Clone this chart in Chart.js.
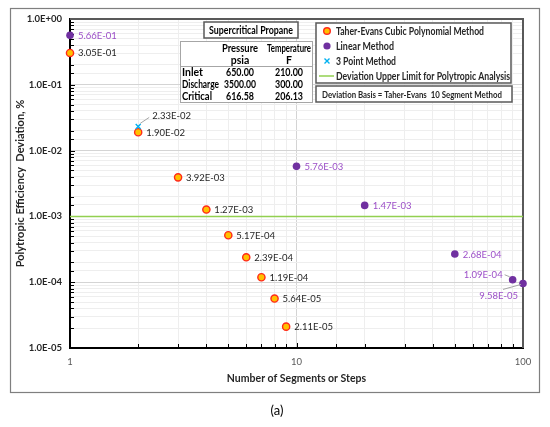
<!DOCTYPE html>
<html>
<head>
<meta charset="utf-8">
<script src="https://cdn.jsdelivr.net/npm/chart.js@4.4.0/dist/chart.umd.min.js"></script>
<style>
html,body{margin:0;padding:0;background:#fff;}
canvas{display:block;}
</style>
</head>
<body>
<canvas id="c" width="550" height="427"></canvas>
<script>
// ---- data ----
const teSegments = [1, 2, 3, 4, 5, 6, 7, 8, 9];
const teDeviation = [3.05e-1, 1.90e-2, 3.92e-3, 1.27e-3, 5.17e-4, 2.39e-4, 1.19e-4, 5.64e-5, 2.11e-5];
const linSteps = [1, 10, 20, 50, 90, 100];
const linDeviation = [5.66e-1, 5.76e-3, 1.47e-3, 2.68e-4, 1.09e-4, 9.58e-5];
const tpSegments = [2];
const tpDeviation = [2.33e-2];
const limitX = [1, 100];
const limitY = [1e-3, 1e-3];
const seriesNames = ['Taher-Evans Cubic Polynomial Method', 'Linear Method', '3 Point Method', 'Deviation Upper Limit for Polytropic Analysis'];
const tableCols = ['Pressure', 'Temperature'];
const tableUnits = ['psia', 'F'];
const tableRows = ['Inlet', 'Discharge', 'Critical'];
const tablePressure = ['650.00', '3500.00', '616.58'];
const tableTemperature = ['210.00', '300.00', '206.13'];
const fluidTitle = 'Supercritical Propane';
const basisNote = 'Deviation Basis = Taher-Evans  10 Segment Method';
const xTitle = 'Number of Segments or Steps';
const yTitle = 'Polytropic Efficiency  Deviation, %';
const caption = '(a)';

const pts = (xs, ys) => xs.map((x, i) => ({x: x, y: ys[i]}));
function fmtE(v, d) {
  const parts = v.toExponential(d).split('e');
  const e = parseInt(parts[1], 10);
  return parts[0] + 'E' + (e < 0 ? '-' : '+') + String(Math.abs(e)).padStart(2, '0');
}
const isDecade = v => Math.abs(Math.log10(v) - Math.round(Math.log10(v))) < 1e-9;

const ORANGE = '#FFC000', RED = '#FF2A1A', PURPLE = '#7030A0', PURPLE_TXT = '#9C4FC8', CYAN = '#00B0F0', GREEN = '#92D050';
const FONT = 'Lato, "Open Sans", sans-serif';

const decor = {
  id: 'decor',
  beforeDraw(chart) {
    const c = chart.ctx;
    c.save();
    c.fillStyle = '#fff';
    c.fillRect(0, 0, chart.width, chart.height);
    c.restore();
  },
  beforeDatasetsDraw(chart) {
    const c = chart.ctx, a = chart.chartArea, xs = chart.scales.x, ys = chart.scales.y;
    c.save();
    // inner tick marks
    c.strokeStyle = '#000'; c.lineWidth = 1;
    ys.ticks.forEach(t => {
      const p = Math.round(ys.getPixelForValue(t.value)) + 0.5;
      c.beginPath(); c.moveTo(a.left, p); c.lineTo(a.left + (isDecade(t.value) ? 5 : 4), p); c.stroke();
    });
    xs.ticks.forEach(t => {
      const p = Math.round(xs.getPixelForValue(t.value)) + 0.5;
      c.beginPath(); c.moveTo(p, a.bottom); c.lineTo(p, a.bottom - (isDecade(t.value) ? 5 : 4)); c.stroke();
    });
    // top/right frame
    c.strokeStyle = '#595959'; c.lineWidth = 2;
    c.beginPath(); c.moveTo(a.left, a.top); c.lineTo(a.right, a.top); c.lineTo(a.right, a.bottom); c.stroke();
    // outer border
    c.strokeStyle = '#7F7F7F'; c.lineWidth = 1.2;
    c.strokeRect(10.5, 8.5, 529, 384);
    // caption
    c.fillStyle = '#000'; c.font = '13px ' + FONT;
    c.textAlign = 'center'; c.textBaseline = 'middle';
    c.fillText(caption, 277, 411);

    // fluid title box
    c.fillStyle = '#fff'; c.fillRect(204, 22, 94, 16);
    c.strokeStyle = '#595959'; c.lineWidth = 1.5; c.strokeRect(204, 22, 94, 16);
    c.fillStyle = '#000'; c.font = 'bold 10.5px ' + FONT;
    c.fillText(fluidTitle, 251, 30.5, 84);

    // table
    c.fillStyle = '#fff'; c.fillRect(180, 41, 132, 62);
    c.strokeStyle = '#A6A6A6'; c.lineWidth = 1; c.strokeRect(180.5, 41.5, 132, 61);
    c.beginPath(); c.moveTo(180.5, 66.5); c.lineTo(312.5, 66.5); c.stroke();
    c.fillStyle = '#000'; c.font = 'bold 10.5px ' + FONT;
    const colX = [240, 289];
    c.textAlign = 'center';
    c.fillText(tableCols[0], colX[0], 48.5, 36);
    c.fillText(tableCols[1], colX[1], 48.5, 44);
    c.fillText(tableUnits[0], colX[0], 60.5);
    c.fillText(tableUnits[1], colX[1], 60.5);
    const rowY = [72.5, 84.5, 96.5];
    const rowW = [21, 37, 30];
    tableRows.forEach((r, i) => {
      c.textAlign = 'left';
      c.fillText(r, 182, rowY[i], rowW[i]);
      c.textAlign = 'center';
      c.fillText(tablePressure[i], colX[0], rowY[i], i === 1 ? 32 : 28);
      c.fillText(tableTemperature[i], colX[1], rowY[i], 28);
    });

    // legend box
    c.fillStyle = '#fff'; c.fillRect(316, 23, 195, 60);
    c.strokeStyle = '#595959'; c.lineWidth = 1.5; c.strokeRect(316, 23, 195, 60);
    const ly = [31, 46, 61, 76];
    const lw = [148, 58, 60, 174];
    // markers
    c.beginPath(); c.arc(327, ly[0], 3.3, 0, Math.PI * 2); c.fillStyle = ORANGE; c.fill();
    c.lineWidth = 1.4; c.strokeStyle = RED; c.stroke();
    c.beginPath(); c.arc(327, ly[1], 3.6, 0, Math.PI * 2); c.fillStyle = PURPLE; c.fill();
    c.strokeStyle = CYAN; c.lineWidth = 1.4;
    c.beginPath(); c.moveTo(324.5, ly[2] - 2.5); c.lineTo(329.5, ly[2] + 2.5);
    c.moveTo(329.5, ly[2] - 2.5); c.lineTo(324.5, ly[2] + 2.5); c.stroke();
    c.strokeStyle = GREEN; c.lineWidth = 1.5;
    c.beginPath(); c.moveTo(319, ly[3]); c.lineTo(334, ly[3]); c.stroke();
    c.fillStyle = '#262626'; c.font = 'bold 11px ' + FONT; c.textAlign = 'left';
    seriesNames.forEach((n, i) => c.fillText(n, 336, ly[i] + 0.5, lw[i]));

    // basis box
    c.fillStyle = '#fff'; c.fillRect(316, 86, 196, 16);
    c.strokeStyle = '#595959'; c.lineWidth = 1.5; c.strokeRect(316, 86, 196, 16);
    c.fillStyle = '#262626'; c.font = 'bold 10px ' + FONT;
    c.fillText(basisNote, 322, 94.5, 180);
    c.restore();
  },
  afterDatasetsDraw(chart) {
    const c = chart.ctx, xs = chart.scales.x, ys = chart.scales.y;
    c.save();
    c.font = '9.5px ' + FONT; c.textBaseline = 'middle';
    const label = (x, y, color, dx, dy, align, leader) => {
      const px = xs.getPixelForValue(x), py = ys.getPixelForValue(y);
      c.fillStyle = color; c.textAlign = align;
      if (leader) {
        c.strokeStyle = '#A6A6A6'; c.lineWidth = 1;
        c.beginPath(); c.moveTo(px + leader[0], py + leader[1]); c.lineTo(px + leader[2], py + leader[3]); c.stroke();
      }
      c.fillText(fmtE(y, 2), px + dx, py + dy);
    };
    teSegments.forEach((x, i) => label(x, teDeviation[i], '#262626', 8, 0.5, 'left'));
    linSteps.forEach((x, i) => {
      const y = linDeviation[i];
      if (x === 90) label(x, y, PURPLE_TXT, -10, -5, 'right', [-3, -3, -8, -5]);
      else if (x === 100) label(x, y, PURPLE_TXT, -5, 13, 'right', [-2, 1, -20, 6]);
      else label(x, y, PURPLE_TXT, 8, 0.5, 'left');
    });
    tpSegments.forEach((x, i) => label(x, tpDeviation[i], '#262626', 14, -10, 'left', [2, -3, 11, -9]));
    c.restore();
  }
};

new Chart(document.getElementById('c'), {
  type: 'scatter',
  data: {
    datasets: [
      {label: seriesNames[3], data: pts(limitX, limitY), showLine: true, borderColor: GREEN, borderWidth: 1.5, pointRadius: 0, order: 4},
      {label: seriesNames[0], data: pts(teSegments, teDeviation), backgroundColor: ORANGE, borderColor: RED, borderWidth: 1.4, pointRadius: 3.6, order: 3, clip: false},
      {label: seriesNames[1], data: pts(linSteps, linDeviation), backgroundColor: PURPLE, borderColor: PURPLE, borderWidth: 0, pointRadius: 3.8, order: 2, clip: false},
      {label: seriesNames[2], data: pts(tpSegments, tpDeviation), pointStyle: 'crossRot', borderColor: CYAN, borderWidth: 1.4, pointRadius: 3.5, order: 1, clip: false}
    ]
  },
  options: {
    responsive: false,
    animation: false,
    devicePixelRatio: 1,
    layout: {padding: {left: 10, right: 27, top: 19, bottom: 35}},
    plugins: {legend: {display: false}, tooltip: {enabled: false}},
    scales: {
      x: {
        type: 'logarithmic', min: 1, max: 100,
        afterFit: s => { s.height = 44; },
        grid: {drawTicks: false, color: ctx => isDecade(ctx.tick.value) ? '#D4D4D4' : '#EEEEEE', lineWidth: 1},
        border: {display: true, color: '#000', width: 2},
        ticks: {autoSkip: false, maxRotation: 0, padding: 8, color: '#595959', font: {family: FONT, size: 9.5},
          callback: v => isDecade(v) ? String(Math.round(v)) : ''},
        title: {display: true, text: xTitle, color: '#262626', font: {family: FONT, size: 10.5, weight: 'bold'}, padding: {top: 4, bottom: 7}}
      },
      y: {
        type: 'logarithmic', min: 1e-5, max: 1,
        afterFit: s => { s.width = 60; },
        grid: {drawTicks: false, color: ctx => isDecade(ctx.tick.value) ? '#D4D4D4' : '#EEEEEE', lineWidth: 1},
        border: {display: true, color: '#000', width: 2},
        ticks: {autoSkip: false, padding: 8, color: '#262626', font: {family: FONT, size: 9.5, weight: 'bold'},
          callback: v => isDecade(v) ? fmtE(v, 1) : ''},
        title: {display: true, text: yTitle, color: '#262626', font: {family: FONT, size: 11, weight: 'bold'}, padding: {top: 4, bottom: 4}}
      }
    }
  },
  plugins: [decor]
});
</script>
</body>
</html>
